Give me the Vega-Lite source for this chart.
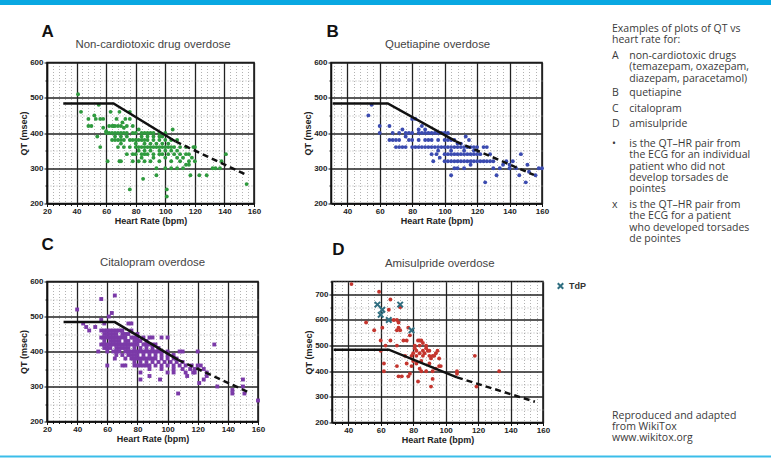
{
"$schema":"https://vega.github.io/schema/vega-lite/v6.json",
"padding":0,
"background":"white",
"config":{
 "font":"Liberation Sans",
 "view":{"stroke":"#111","strokeWidth":1.5},
 "axis":{"labelFont":"Liberation Sans","labelFontWeight":"bold","labelFontSize":8,"labelColor":"#222","titleFont":"Liberation Sans","titleFontWeight":"bold","titleFontSize":9,"titleColor":"#222","domainColor":"#111","domainWidth":1.5,"tickColor":"#111","labelPadding":1,"titlePadding":1,"grid":true,"labelOverlap":false,"labelFlush":false,"tickCount":100}
},
"datasets":{
 "nomo":[{"hr":31,"qt":484,"part":"solid"},{"hr":65,"qt":484,"part":"solid"},{"hr":107,"qt":376,"part":"solid"},{"hr":107,"qt":376,"part":"dashed"},{"hr":155,"qt":281,"part":"dashed"}],
 "ptsA":[
{"hr":41,"qt":510},{"hr":43,"qt":460},{"hr":48,"qt":440},{"hr":48,"qt":420},{"hr":50,"qt":420},{"hr":52,"qt":450},{"hr":53,"qt":440},{"hr":55,"qt":480},{"hr":56,"qt":440},{"hr":54,"qt":390},{"hr":56,"qt":360},{"hr":58,"qt":440},{"hr":58,"qt":415},{"hr":60,"qt":405},{"hr":61,"qt":320},{"hr":63,"qt":460},{"hr":65,"qt":420},{"hr":67,"qt":440},{"hr":69,"qt":460},{"hr":71,"qt":430},{"hr":73,"qt":440},{"hr":76,"qt":440},{"hr":76,"qt":460},{"hr":72,"qt":415},{"hr":69,"qt":320},{"hr":76,"qt":240},{"hr":85,"qt":270},{"hr":94,"qt":280},{"hr":101,"qt":240},{"hr":101,"qt":220},{"hr":105,"qt":410},{"hr":117,"qt":280},{"hr":123,"qt":280},{"hr":128,"qt":280},{"hr":120,"qt":360},{"hr":141,"qt":340},{"hr":138,"qt":320},{"hr":134,"qt":300},{"hr":155,"qt":255},
{"hr":62,"qt":420},{"hr":64,"qt":420},{"hr":66,"qt":420},{"hr":68,"qt":420},{"hr":70,"qt":420},{"hr":74,"qt":420},{"hr":78,"qt":420},{"hr":82,"qt":410},
{"hr":60,"qt":400},{"hr":62,"qt":400},{"hr":64,"qt":400},{"hr":66,"qt":400},{"hr":68,"qt":400},{"hr":70,"qt":400},{"hr":72,"qt":400},{"hr":74,"qt":400},{"hr":78,"qt":400},{"hr":80,"qt":400},{"hr":84,"qt":400},{"hr":86,"qt":400},{"hr":88,"qt":400},{"hr":90,"qt":400},{"hr":92,"qt":400},{"hr":96,"qt":400},{"hr":100,"qt":400},
{"hr":66,"qt":390},{"hr":70,"qt":390},{"hr":74,"qt":390},{"hr":84,"qt":390},{"hr":88,"qt":390},{"hr":92,"qt":390},{"hr":96,"qt":390},{"hr":98,"qt":390},
{"hr":64,"qt":380},{"hr":66,"qt":380},{"hr":68,"qt":380},{"hr":70,"qt":380},{"hr":72,"qt":380},{"hr":76,"qt":380},{"hr":78,"qt":380},{"hr":80,"qt":380},{"hr":82,"qt":380},{"hr":84,"qt":380},{"hr":86,"qt":380},{"hr":88,"qt":380},{"hr":92,"qt":380},{"hr":96,"qt":380},{"hr":100,"qt":380},{"hr":104,"qt":380},{"hr":108,"qt":380},
{"hr":70,"qt":370},{"hr":80,"qt":370},{"hr":86,"qt":370},{"hr":90,"qt":370},{"hr":94,"qt":370},{"hr":98,"qt":370},{"hr":102,"qt":370},
{"hr":68,"qt":360},{"hr":72,"qt":360},{"hr":76,"qt":360},{"hr":80,"qt":360},{"hr":82,"qt":360},{"hr":84,"qt":360},{"hr":86,"qt":360},{"hr":88,"qt":360},{"hr":90,"qt":360},{"hr":92,"qt":360},{"hr":94,"qt":360},{"hr":96,"qt":360},{"hr":98,"qt":360},{"hr":100,"qt":360},{"hr":102,"qt":360},{"hr":104,"qt":360},{"hr":106,"qt":360},{"hr":110,"qt":360},{"hr":114,"qt":360},{"hr":119,"qt":360},
{"hr":82,"qt":350},{"hr":86,"qt":350},{"hr":90,"qt":350},{"hr":96,"qt":350},{"hr":100,"qt":350},{"hr":104,"qt":350},{"hr":108,"qt":350},
{"hr":74,"qt":340},{"hr":78,"qt":340},{"hr":80,"qt":340},{"hr":84,"qt":340},{"hr":86,"qt":340},{"hr":88,"qt":340},{"hr":92,"qt":340},{"hr":96,"qt":340},{"hr":98,"qt":340},{"hr":102,"qt":340},{"hr":106,"qt":340},{"hr":110,"qt":340},{"hr":114,"qt":340},{"hr":116,"qt":340},
{"hr":84,"qt":330},{"hr":92,"qt":330},{"hr":100,"qt":330},{"hr":108,"qt":330},{"hr":112,"qt":330},{"hr":118,"qt":330},
{"hr":70,"qt":320},{"hr":78,"qt":320},{"hr":82,"qt":320},{"hr":86,"qt":320},{"hr":90,"qt":320},{"hr":96,"qt":320},{"hr":104,"qt":320},{"hr":110,"qt":320},{"hr":116,"qt":320},{"hr":120,"qt":320},
{"hr":114,"qt":310},{"hr":116,"qt":310},
{"hr":94,"qt":300},{"hr":100,"qt":300},{"hr":104,"qt":300},{"hr":108,"qt":300},{"hr":112,"qt":300},{"hr":132,"qt":300},{"hr":137,"qt":300}
 ],
 "ptsB":[
{"hr":53,"qt":450},{"hr":55,"qt":480},{"hr":60,"qt":420},{"hr":60,"qt":400},{"hr":66,"qt":420},{"hr":68,"qt":400},{"hr":70,"qt":380},{"hr":72,"qt":400},{"hr":74,"qt":410},{"hr":76,"qt":390},{"hr":80,"qt":440},{"hr":82,"qt":440},{"hr":84,"qt":410},{"hr":86,"qt":420},{"hr":88,"qt":410},{"hr":90,"qt":400},{"hr":93,"qt":320},{"hr":95,"qt":340},{"hr":97,"qt":330},{"hr":104,"qt":280},{"hr":106,"qt":300},{"hr":108,"qt":300},{"hr":125,"qt":260},{"hr":147,"qt":340},{"hr":150,"qt":260},{"hr":151,"qt":310},{"hr":156,"qt":280},{"hr":158,"qt":300},{"hr":160,"qt":300},{"hr":134,"qt":300},{"hr":132,"qt":280},{"hr":138,"qt":320},{"hr":140,"qt":300},{"hr":142,"qt":320},{"hr":144,"qt":300},{"hr":146,"qt":280},{"hr":152,"qt":290},{"hr":124,"qt":360},{"hr":126,"qt":360},{"hr":128,"qt":340},{"hr":113,"qt":390},{"hr":115,"qt":380},
{"hr":66,"qt":380},{"hr":68,"qt":380},{"hr":72,"qt":380},{"hr":78,"qt":380},{"hr":80,"qt":380},{"hr":84,"qt":380},{"hr":88,"qt":380},{"hr":90,"qt":380},{"hr":92,"qt":380},{"hr":96,"qt":380},{"hr":100,"qt":380},{"hr":102,"qt":380},{"hr":104,"qt":380},{"hr":106,"qt":380},
{"hr":108,"qt":370},{"hr":110,"qt":370},
{"hr":76,"qt":400},{"hr":78,"qt":400},{"hr":80,"qt":400},{"hr":84,"qt":400},{"hr":86,"qt":400},{"hr":88,"qt":400},{"hr":92,"qt":400},{"hr":94,"qt":400},{"hr":96,"qt":400},{"hr":98,"qt":400},{"hr":100,"qt":400},{"hr":102,"qt":400},
{"hr":70,"qt":360},{"hr":72,"qt":360},{"hr":74,"qt":360},{"hr":76,"qt":360},{"hr":80,"qt":360},{"hr":82,"qt":360},{"hr":84,"qt":360},{"hr":86,"qt":360},{"hr":88,"qt":360},{"hr":90,"qt":360},{"hr":92,"qt":360},{"hr":94,"qt":360},{"hr":96,"qt":360},{"hr":98,"qt":360},{"hr":100,"qt":360},{"hr":102,"qt":360},{"hr":104,"qt":360},{"hr":106,"qt":360},{"hr":108,"qt":360},{"hr":110,"qt":360},{"hr":112,"qt":360},{"hr":114,"qt":360},{"hr":116,"qt":360},{"hr":118,"qt":360},{"hr":120,"qt":360},
{"hr":96,"qt":350},{"hr":104,"qt":350},{"hr":112,"qt":350},{"hr":118,"qt":350},
{"hr":92,"qt":340},{"hr":100,"qt":340},{"hr":102,"qt":340},{"hr":104,"qt":340},{"hr":106,"qt":340},{"hr":108,"qt":340},{"hr":110,"qt":340},{"hr":112,"qt":340},{"hr":114,"qt":340},{"hr":116,"qt":340},{"hr":118,"qt":340},{"hr":120,"qt":340},{"hr":122,"qt":340},
{"hr":100,"qt":320},{"hr":102,"qt":320},{"hr":104,"qt":320},{"hr":106,"qt":320},{"hr":108,"qt":320},{"hr":110,"qt":320},{"hr":112,"qt":320},{"hr":114,"qt":320},{"hr":116,"qt":320},{"hr":118,"qt":320},{"hr":120,"qt":320},{"hr":122,"qt":320},{"hr":124,"qt":320},{"hr":126,"qt":320},{"hr":128,"qt":320},{"hr":130,"qt":320},
{"hr":116,"qt":310},{"hr":136,"qt":310},{"hr":140,"qt":310},{"hr":112,"qt":300},{"hr":130,"qt":300}
 ],
 "ptsC":[
{"hr":40,"qt":520},{"hr":56,"qt":550},{"hr":65,"qt":560},{"hr":63,"qt":510},{"hr":61,"qt":500},{"hr":44,"qt":480},{"hr":46,"qt":470},{"hr":48,"qt":460},{"hr":52,"qt":470},{"hr":54,"qt":400},{"hr":60,"qt":360},{"hr":65,"qt":380},{"hr":70,"qt":360},{"hr":72,"qt":360},{"hr":82,"qt":320},{"hr":82,"qt":340},{"hr":88,"qt":330},{"hr":95,"qt":320},{"hr":107,"qt":280},{"hr":108,"qt":400},{"hr":110,"qt":400},{"hr":120,"qt":400},{"hr":131,"qt":420},{"hr":121,"qt":310},{"hr":124,"qt":320},{"hr":126,"qt":340},{"hr":133,"qt":300},{"hr":143,"qt":290},{"hr":143,"qt":280},{"hr":150,"qt":320},{"hr":150,"qt":300},{"hr":151,"qt":280},{"hr":160,"qt":260},{"hr":115,"qt":350},{"hr":117,"qt":340},{"hr":113,"qt":330},{"hr":96,"qt":440},{"hr":100,"qt":440},{"hr":74,"qt":480},{"hr":76,"qt":480},{"hr":66,"qt":460},{"hr":56,"qt":490},{"hr":58,"qt":480},
{"hr":56,"qt":460},{"hr":58,"qt":460},{"hr":60,"qt":460},{"hr":62,"qt":460},{"hr":64,"qt":460},{"hr":68,"qt":460},{"hr":70,"qt":460},{"hr":76,"qt":460},
{"hr":58,"qt":450},{"hr":60,"qt":450},{"hr":62,"qt":450},{"hr":64,"qt":450},{"hr":66,"qt":450},{"hr":70,"qt":450},{"hr":72,"qt":450},{"hr":74,"qt":450},{"hr":80,"qt":450},
{"hr":56,"qt":440},{"hr":58,"qt":440},{"hr":60,"qt":440},{"hr":62,"qt":440},{"hr":64,"qt":440},{"hr":66,"qt":440},{"hr":68,"qt":440},{"hr":70,"qt":440},{"hr":72,"qt":440},{"hr":76,"qt":440},{"hr":78,"qt":440},{"hr":80,"qt":440},{"hr":84,"qt":440},{"hr":88,"qt":440},{"hr":90,"qt":440},
{"hr":58,"qt":430},{"hr":62,"qt":430},{"hr":64,"qt":430},{"hr":66,"qt":430},{"hr":68,"qt":430},{"hr":72,"qt":430},{"hr":74,"qt":430},{"hr":78,"qt":430},{"hr":80,"qt":430},{"hr":82,"qt":430},{"hr":86,"qt":430},
{"hr":56,"qt":420},{"hr":58,"qt":420},{"hr":60,"qt":420},{"hr":62,"qt":420},{"hr":64,"qt":420},{"hr":66,"qt":420},{"hr":68,"qt":420},{"hr":70,"qt":420},{"hr":72,"qt":420},{"hr":74,"qt":420},{"hr":76,"qt":420},{"hr":78,"qt":420},{"hr":80,"qt":420},{"hr":84,"qt":420},{"hr":86,"qt":420},{"hr":88,"qt":420},{"hr":90,"qt":420},{"hr":92,"qt":420},
{"hr":58,"qt":410},{"hr":60,"qt":410},{"hr":62,"qt":410},{"hr":66,"qt":410},{"hr":68,"qt":410},{"hr":70,"qt":410},{"hr":72,"qt":410},{"hr":74,"qt":410},{"hr":78,"qt":410},{"hr":82,"qt":410},{"hr":86,"qt":410},{"hr":90,"qt":410},{"hr":94,"qt":410},
{"hr":60,"qt":400},{"hr":64,"qt":400},{"hr":66,"qt":400},{"hr":68,"qt":400},{"hr":72,"qt":400},{"hr":74,"qt":400},{"hr":76,"qt":400},{"hr":78,"qt":400},{"hr":80,"qt":400},{"hr":82,"qt":400},{"hr":84,"qt":400},{"hr":86,"qt":400},{"hr":88,"qt":400},{"hr":90,"qt":400},{"hr":92,"qt":400},{"hr":94,"qt":400},{"hr":96,"qt":400},{"hr":100,"qt":400},
{"hr":66,"qt":390},{"hr":70,"qt":390},{"hr":74,"qt":390},{"hr":76,"qt":390},{"hr":78,"qt":390},{"hr":80,"qt":390},{"hr":84,"qt":390},{"hr":88,"qt":390},{"hr":92,"qt":390},{"hr":96,"qt":390},{"hr":100,"qt":390},{"hr":104,"qt":390},
{"hr":72,"qt":380},{"hr":76,"qt":380},{"hr":78,"qt":380},{"hr":80,"qt":380},{"hr":82,"qt":380},{"hr":84,"qt":380},{"hr":86,"qt":380},{"hr":88,"qt":380},{"hr":90,"qt":380},{"hr":92,"qt":380},{"hr":96,"qt":380},{"hr":100,"qt":380},{"hr":104,"qt":380},{"hr":106,"qt":380},
{"hr":78,"qt":370},{"hr":82,"qt":370},{"hr":86,"qt":370},{"hr":90,"qt":370},{"hr":94,"qt":370},{"hr":98,"qt":370},{"hr":102,"qt":370},{"hr":106,"qt":370},{"hr":110,"qt":370},
{"hr":78,"qt":360},{"hr":80,"qt":360},{"hr":82,"qt":360},{"hr":84,"qt":360},{"hr":86,"qt":360},{"hr":88,"qt":360},{"hr":92,"qt":360},{"hr":96,"qt":360},{"hr":100,"qt":360},{"hr":104,"qt":360},{"hr":108,"qt":360},{"hr":112,"qt":360},{"hr":116,"qt":360},{"hr":120,"qt":360},{"hr":122,"qt":360},
{"hr":88,"qt":350},{"hr":96,"qt":350},{"hr":104,"qt":350},{"hr":110,"qt":350},{"hr":118,"qt":350},{"hr":124,"qt":350},
{"hr":100,"qt":340},{"hr":104,"qt":340},{"hr":112,"qt":340},{"hr":118,"qt":340},{"hr":126,"qt":330}
 ],
 "ptsD":[
{"hr":42,"qt":740},{"hr":51,"qt":590},{"hr":56,"qt":560},{"hr":59,"qt":710},{"hr":61,"qt":570},{"hr":60,"qt":520},{"hr":60,"qt":480},{"hr":62,"qt":400},{"hr":62,"qt":430},{"hr":63,"qt":500},{"hr":66,"qt":680},{"hr":65,"qt":640},{"hr":66,"qt":520},{"hr":68,"qt":600},{"hr":70,"qt":600},{"hr":71,"qt":590},{"hr":71,"qt":570},{"hr":72,"qt":560},{"hr":70,"qt":560},{"hr":72,"qt":650},{"hr":70,"qt":500},{"hr":70,"qt":420},{"hr":71,"qt":380},{"hr":74,"qt":520},{"hr":76,"qt":520},{"hr":77,"qt":570},{"hr":78,"qt":540},{"hr":75,"qt":460},{"hr":78,"qt":390},{"hr":77,"qt":380},{"hr":79,"qt":420},{"hr":80,"qt":470},{"hr":81,"qt":500},{"hr":81,"qt":490},{"hr":82,"qt":480},{"hr":83,"qt":520},{"hr":84,"qt":520},{"hr":85,"qt":520},{"hr":86,"qt":510},{"hr":83,"qt":360},{"hr":91,"qt":340},{"hr":92,"qt":370},{"hr":107,"qt":400},{"hr":107,"qt":390},{"hr":118,"qt":460},{"hr":119,"qt":340},{"hr":133,"qt":400},
{"hr":82,"qt":460},{"hr":84,"qt":470},{"hr":85,"qt":440},{"hr":86,"qt":460},{"hr":87,"qt":470},{"hr":88,"qt":490},{"hr":89,"qt":480},{"hr":90,"qt":460},{"hr":91,"qt":450},{"hr":92,"qt":460},{"hr":93,"qt":460},{"hr":94,"qt":470},{"hr":95,"qt":480},{"hr":96,"qt":450},{"hr":97,"qt":420},{"hr":84,"qt":410},{"hr":85,"qt":400},{"hr":88,"qt":400},{"hr":90,"qt":430},{"hr":92,"qt":400},{"hr":94,"qt":410},{"hr":96,"qt":420},{"hr":86,"qt":480},{"hr":88,"qt":500},{"hr":90,"qt":480},{"hr":84,"qt":500},{"hr":80,"qt":440},{"hr":79,"qt":460},{"hr":82,"qt":430},{"hr":76,"qt":430},{"hr":73,"qt":380}
 ],
 "tdp":[{"hr":58,"qt":660,"kind":"TdP"},{"hr":60,"qt":620,"kind":"TdP"},{"hr":61,"qt":640,"kind":"TdP"},{"hr":72,"qt":660,"kind":"TdP"},{"hr":65,"qt":600,"kind":"TdP"},{"hr":79,"qt":560,"kind":"TdP"}],
 "notes":[
{"line":0.15,"col":"k","text":"Examples of plots of QT vs"},
{"line":1.1,"col":"k","text":"heart rate for:"},
{"line":2.5,"col":"k","text":"A"},{"line":2.5,"col":"d","text":"non-cardiotoxic drugs"},
{"line":3.5,"col":"d","text":"(temazepam, oxazepam,"},
{"line":4.5,"col":"d","text":"diazepam, paracetamol)"},
{"line":5.8,"col":"k","text":"B"},{"line":5.8,"col":"d","text":"quetiapine"},
{"line":7.2,"col":"k","text":"C"},{"line":7.2,"col":"d","text":"citalopram"},
{"line":8.5,"col":"k","text":"D"},{"line":8.5,"col":"d","text":"amisulpride"},
{"line":10.2,"col":"k","text":"•"},{"line":10.2,"col":"d","text":"is the QT–HR pair from"},
{"line":11.2,"col":"d","text":"the ECG for an individual"},
{"line":12.25,"col":"d","text":"patient who did not"},
{"line":13.2,"col":"d","text":"develop torsades de"},
{"line":14.2,"col":"d","text":"pointes"},
{"line":15.6,"col":"k","text":"x"},{"line":15.6,"col":"d","text":"is the QT–HR pair from"},
{"line":16.55,"col":"d","text":"the ECG for a patient"},
{"line":17.55,"col":"d","text":"who developed torsades"},
{"line":18.55,"col":"d","text":"de pointes"},
{"line":34.0,"col":"k","text":"Reproduced and adapted"},
{"line":35.0,"col":"k","text":"from WikiTox"},
{"line":35.95,"col":"k","text":"www.wikitox.org"}
 ]
},
"spacing":13.5,
"resolve":{"scale":{"color":"independent","shape":"independent"},"legend":{"color":"independent","shape":"independent"}},
"vconcat":[
 {"width":771,"height":5,"data":{"values":[{}]},"mark":{"type":"rect","color":"#09a8e2"},"encoding":{},"view":{"stroke":null}},
 {"spacing":10,"resolve":{"scale":{"color":"independent","shape":"independent"},"legend":{"color":"independent","shape":"independent"}},"vconcat":[
  {"spacing":17,"resolve":{"scale":{"color":"independent","shape":"independent"},"legend":{"color":"independent","shape":"independent"}},"hconcat":[
   {"width":1,"height":1,"data":{"values":[]},"mark":"point","encoding":{},"view":{"stroke":null}},
   {"spacing":25,"resolve":{"scale":{"color":"independent","shape":"independent"},"legend":{"color":"independent","shape":"independent"}},"hconcat":[
    {"spacing":2,"resolve":{"scale":{"color":"independent","shape":"independent"},"legend":{"color":"independent","shape":"independent"}},"vconcat":[
     {"width":1,"height":1,"data":{"values":[]},"mark":"point","encoding":{},"view":{"stroke":null}},
     {"spacing":9,"resolve":{"scale":{"color":"independent","shape":"independent"},"legend":{"color":"independent","shape":"independent"}},"vconcat":[
      {"spacing":40,"hconcat":[
       {"width":207,"height":141,"layer":[
        {"data":{"name":"ptsA"},"mark":{"type":"circle","size":15,"color":"#2f9a3e","opacity":1},
         "encoding":{
          "x":{"field":"hr","type":"quantitative","scale":{"domain":[20,160],"nice":false,"zero":false},
               "axis":{"title":"Heart Rate (bpm)","tickCount":100,"values":[20,24,28,32,36,40,44,48,52,56,60,64,68,72,76,80,84,88,92,96,100,104,108,112,116,120,124,128,132,136,140,144,148,152,156,160],"labelExpr":"datum.value % 20 === 0 ? datum.label : ''","gridColor":{"condition":{"test":"datum.value % 20 === 0","value":"#222"},"value":"#a0a0a0"},"gridDash":{"condition":{"test":"datum.value % 20 === 0","value":[]},"value":[1,2]},"gridWidth":{"condition":{"test":"datum.value % 20 === 0","value":1.3},"value":0.8},"tickSize":{"condition":{"test":"datum.value % 20 === 0","value":3},"value":2}}},
          "y":{"field":"qt","type":"quantitative","scale":{"domain":[200,600],"nice":false,"zero":false},
               "axis":{"title":"QT (msec)","tickCount":100,"values":[200,250,300,350,400,450,500,550,600],"labelExpr":"datum.value % 100 === 0 ? datum.label : ''","gridColor":{"condition":{"test":"datum.value % 100 === 0","value":"#222"},"value":"#a0a0a0"},"gridDash":{"condition":{"test":"datum.value % 100 === 0","value":[]},"value":[1,2]},"gridWidth":{"condition":{"test":"datum.value % 100 === 0","value":1.3},"value":0.8},"tickSize":{"condition":{"test":"datum.value % 100 === 0","value":3},"value":2}}}}},
        {"data":{"name":"nomo"},"transform":[{"filter":"datum.part === 'solid'"}],"mark":{"type":"line","color":"#111","strokeWidth":2.5},"encoding":{"x":{"field":"hr","type":"quantitative"},"y":{"field":"qt","type":"quantitative"}}},
        {"data":{"name":"nomo"},"transform":[{"filter":"datum.part === 'dashed'"}],"mark":{"type":"line","color":"#111","strokeWidth":2.5,"strokeDash":[6,4]},"encoding":{"x":{"field":"hr","type":"quantitative"},"y":{"field":"qt","type":"quantitative"}}},
        {"data":{"values":[{}]},"mark":{"type":"text","text":"A","fontSize":17,"fontWeight":"bold","font":"Liberation Sans","color":"#111"},"encoding":{"x":{"datum":20.4},"y":{"datum":687}}},
        {"data":{"values":[{}]},"mark":{"type":"text","text":"Non-cardiotoxic drug overdose","fontSize":11.4,"font":"Liberation Sans","color":"#444"},"encoding":{"x":{"datum":91.7},"y":{"datum":650}}}
       ]},
       {"width":211,"height":141,"layer":[
        {"data":{"name":"ptsB"},"mark":{"type":"circle","size":15,"color":"#3b4bb0","opacity":1},
         "encoding":{
          "x":{"field":"hr","type":"quantitative","scale":{"domain":[30,160],"nice":false,"zero":false},
               "axis":{"title":"Heart Rate (bpm)","tickCount":100,"values":[32,36,40,44,48,52,56,60,64,68,72,76,80,84,88,92,96,100,104,108,112,116,120,124,128,132,136,140,144,148,152,156,160],"labelExpr":"datum.value % 20 === 0 ? datum.label : ''","gridColor":{"condition":{"test":"datum.value % 20 === 0","value":"#222"},"value":"#a0a0a0"},"gridDash":{"condition":{"test":"datum.value % 20 === 0","value":[]},"value":[1,2]},"gridWidth":{"condition":{"test":"datum.value % 20 === 0","value":1.3},"value":0.8},"tickSize":{"condition":{"test":"datum.value % 20 === 0","value":3},"value":2}}},
          "y":{"field":"qt","type":"quantitative","scale":{"domain":[200,600],"nice":false,"zero":false},
               "axis":{"title":"QT (msec)","tickCount":100,"values":[200,250,300,350,400,450,500,550,600],"labelExpr":"datum.value % 100 === 0 ? datum.label : ''","gridColor":{"condition":{"test":"datum.value % 100 === 0","value":"#222"},"value":"#a0a0a0"},"gridDash":{"condition":{"test":"datum.value % 100 === 0","value":[]},"value":[1,2]},"gridWidth":{"condition":{"test":"datum.value % 100 === 0","value":1.3},"value":0.8},"tickSize":{"condition":{"test":"datum.value % 100 === 0","value":3},"value":2}}}}},
        {"data":{"name":"nomo"},"transform":[{"filter":"datum.part === 'solid'"}],"mark":{"type":"line","color":"#111","strokeWidth":2.5},"encoding":{"x":{"field":"hr","type":"quantitative"},"y":{"field":"qt","type":"quantitative"}}},
        {"data":{"name":"nomo"},"transform":[{"filter":"datum.part === 'dashed'"}],"mark":{"type":"line","color":"#111","strokeWidth":2.5,"strokeDash":[6,4]},"encoding":{"x":{"field":"hr","type":"quantitative"},"y":{"field":"qt","type":"quantitative"}}},
        {"data":{"values":[{}]},"mark":{"type":"text","text":"B","fontSize":17,"fontWeight":"bold","font":"Liberation Sans","color":"#111"},"encoding":{"x":{"datum":31},"y":{"datum":687}}},
        {"data":{"values":[{}]},"mark":{"type":"text","text":"Quetiapine overdose","fontSize":11.4,"font":"Liberation Sans","color":"#444"},"encoding":{"x":{"datum":95.7},"y":{"datum":650}}}
       ]}
      ]},
      {"spacing":37,"resolve":{"scale":{"color":"independent","shape":"independent"},"legend":{"color":"independent","shape":"independent"}},"hconcat":[
       {"width":211,"height":140,"layer":[
        {"data":{"name":"ptsC"},"mark":{"type":"square","size":15,"color":"#7b3aa8","opacity":1},
         "encoding":{
          "x":{"field":"hr","type":"quantitative","scale":{"domain":[20,160],"nice":false,"zero":false},
               "axis":{"title":"Heart Rate (bpm)","tickCount":100,"values":[20,24,28,32,36,40,44,48,52,56,60,64,68,72,76,80,84,88,92,96,100,104,108,112,116,120,124,128,132,136,140,144,148,152,156,160],"labelExpr":"datum.value % 20 === 0 ? datum.label : ''","gridColor":{"condition":{"test":"datum.value % 20 === 0","value":"#222"},"value":"#a0a0a0"},"gridDash":{"condition":{"test":"datum.value % 20 === 0","value":[]},"value":[1,2]},"gridWidth":{"condition":{"test":"datum.value % 20 === 0","value":1.3},"value":0.8},"tickSize":{"condition":{"test":"datum.value % 20 === 0","value":3},"value":2}}},
          "y":{"field":"qt","type":"quantitative","scale":{"domain":[200,600],"nice":false,"zero":false},
               "axis":{"title":"QT (msec)","tickCount":100,"values":[200,250,300,350,400,450,500,550,600],"labelExpr":"datum.value % 100 === 0 ? datum.label : ''","gridColor":{"condition":{"test":"datum.value % 100 === 0","value":"#222"},"value":"#a0a0a0"},"gridDash":{"condition":{"test":"datum.value % 100 === 0","value":[]},"value":[1,2]},"gridWidth":{"condition":{"test":"datum.value % 100 === 0","value":1.3},"value":0.8},"tickSize":{"condition":{"test":"datum.value % 100 === 0","value":3},"value":2}}}}},
        {"data":{"name":"nomo"},"transform":[{"filter":"datum.part === 'solid'"}],"mark":{"type":"line","color":"#111","strokeWidth":2.5},"encoding":{"x":{"field":"hr","type":"quantitative"},"y":{"field":"qt","type":"quantitative"}}},
        {"data":{"name":"nomo"},"transform":[{"filter":"datum.part === 'dashed'"}],"mark":{"type":"line","color":"#111","strokeWidth":2.5,"strokeDash":[6,4]},"encoding":{"x":{"field":"hr","type":"quantitative"},"y":{"field":"qt","type":"quantitative"}}},
        {"data":{"values":[{}]},"mark":{"type":"text","text":"C","fontSize":17,"fontWeight":"bold","font":"Liberation Sans","color":"#111"},"encoding":{"x":{"datum":20.5},"y":{"datum":703}}},
        {"data":{"values":[{}]},"mark":{"type":"text","text":"Citalopram overdose","fontSize":11.4,"font":"Liberation Sans","color":"#444"},"encoding":{"x":{"datum":90},"y":{"datum":653}}}
       ]},
       {"width":211,"height":141,"layer":[
        {"data":{"name":"ptsD"},"mark":{"type":"circle","size":15,"color":"#c4352e","opacity":1},
         "encoding":{
          "x":{"field":"hr","type":"quantitative","scale":{"domain":[30,160],"nice":false,"zero":false},
               "axis":{"title":"Heart Rate (bpm)","tickCount":100,"values":[32,36,40,44,48,52,56,60,64,68,72,76,80,84,88,92,96,100,104,108,112,116,120,124,128,132,136,140,144,148,152,156,160],"labelExpr":"datum.value % 20 === 0 ? datum.label : ''","gridColor":{"condition":{"test":"datum.value % 20 === 0","value":"#222"},"value":"#a0a0a0"},"gridDash":{"condition":{"test":"datum.value % 20 === 0","value":[]},"value":[1,2]},"gridWidth":{"condition":{"test":"datum.value % 20 === 0","value":1.3},"value":0.8},"tickSize":{"condition":{"test":"datum.value % 20 === 0","value":3},"value":2}}},
          "y":{"field":"qt","type":"quantitative","scale":{"domain":[200,750],"nice":false,"zero":false},
               "axis":{"title":"QT (msec)","tickCount":100,"values":[200,250,300,350,400,450,500,550,600,650,700,750],"labelExpr":"datum.value % 100 === 0 ? datum.label : ''","gridColor":{"condition":{"test":"datum.value % 100 === 0","value":"#222"},"value":"#a0a0a0"},"gridDash":{"condition":{"test":"datum.value % 100 === 0","value":[]},"value":[1,2]},"gridWidth":{"condition":{"test":"datum.value % 100 === 0","value":1.3},"value":0.8},"tickSize":{"condition":{"test":"datum.value % 100 === 0","value":3},"value":2}}}}},
        {"data":{"name":"tdp"},"mark":{"type":"point","filled":false,"strokeWidth":2,"size":30,"opacity":1},
         "encoding":{"x":{"field":"hr","type":"quantitative"},"y":{"field":"qt","type":"quantitative"},
          "shape":{"field":"kind","type":"nominal","scale":{"range":["M-1,-1L1,1M-1,1L1,-1"]},"legend":{"title":null,"orient":"right","offset":13,"padding":0,"labelFont":"Liberation Sans","labelFontWeight":"bold","labelFontSize":9,"labelColor":"#333","symbolStrokeWidth":2,"symbolSize":30}},
          "color":{"field":"kind","type":"nominal","scale":{"range":["#2f6e80"]},"legend":{"title":null,"orient":"right","offset":13,"padding":0,"labelFont":"Liberation Sans","labelFontWeight":"bold","labelFontSize":9,"labelColor":"#333","symbolStrokeWidth":2,"symbolSize":30}}}},
        {"data":{"name":"nomo"},"transform":[{"filter":"datum.part === 'solid'"}],"mark":{"type":"line","color":"#111","strokeWidth":2.5},"encoding":{"x":{"field":"hr","type":"quantitative"},"y":{"field":"qt","type":"quantitative"}}},
        {"data":{"name":"nomo"},"transform":[{"filter":"datum.part === 'dashed'"}],"mark":{"type":"line","color":"#111","strokeWidth":2.5,"strokeDash":[6,4]},"encoding":{"x":{"field":"hr","type":"quantitative"},"y":{"field":"qt","type":"quantitative"}}},
        {"data":{"values":[{}]},"mark":{"type":"text","text":"D","fontSize":17,"fontWeight":"bold","font":"Liberation Sans","color":"#111"},"encoding":{"x":{"datum":34},"y":{"datum":872}}},
        {"data":{"values":[{}]},"mark":{"type":"text","text":"Amisulpride overdose","fontSize":11.4,"font":"Liberation Sans","color":"#444"},"encoding":{"x":{"datum":96.4},"y":{"datum":817}}}
       ]}
      ]}
     ]}
    ]},
    {"width":150,"height":418.6,"data":{"name":"notes"},"view":{"stroke":null},
     "mark":{"type":"text","align":"left","baseline":"middle","font":"Open Sans","fontSize":10.5,"color":"#3a3a3a"},
     "encoding":{
      "x":{"field":"col","type":"nominal","scale":{"type":"point","domain":["k","d"],"range":[0,17.3],"padding":0},"axis":null},
      "y":{"field":"line","type":"quantitative","scale":{"domain":[-0.75,35.85],"reverse":true,"nice":false,"zero":false},"axis":null},
      "text":{"field":"text"}}}
   ]}
  ]},
  {"width":771,"height":2,"data":{"values":[{}]},"mark":{"type":"rect","color":"#3bbde9"},"encoding":{},"view":{"stroke":null}}
 ]}
]
}
